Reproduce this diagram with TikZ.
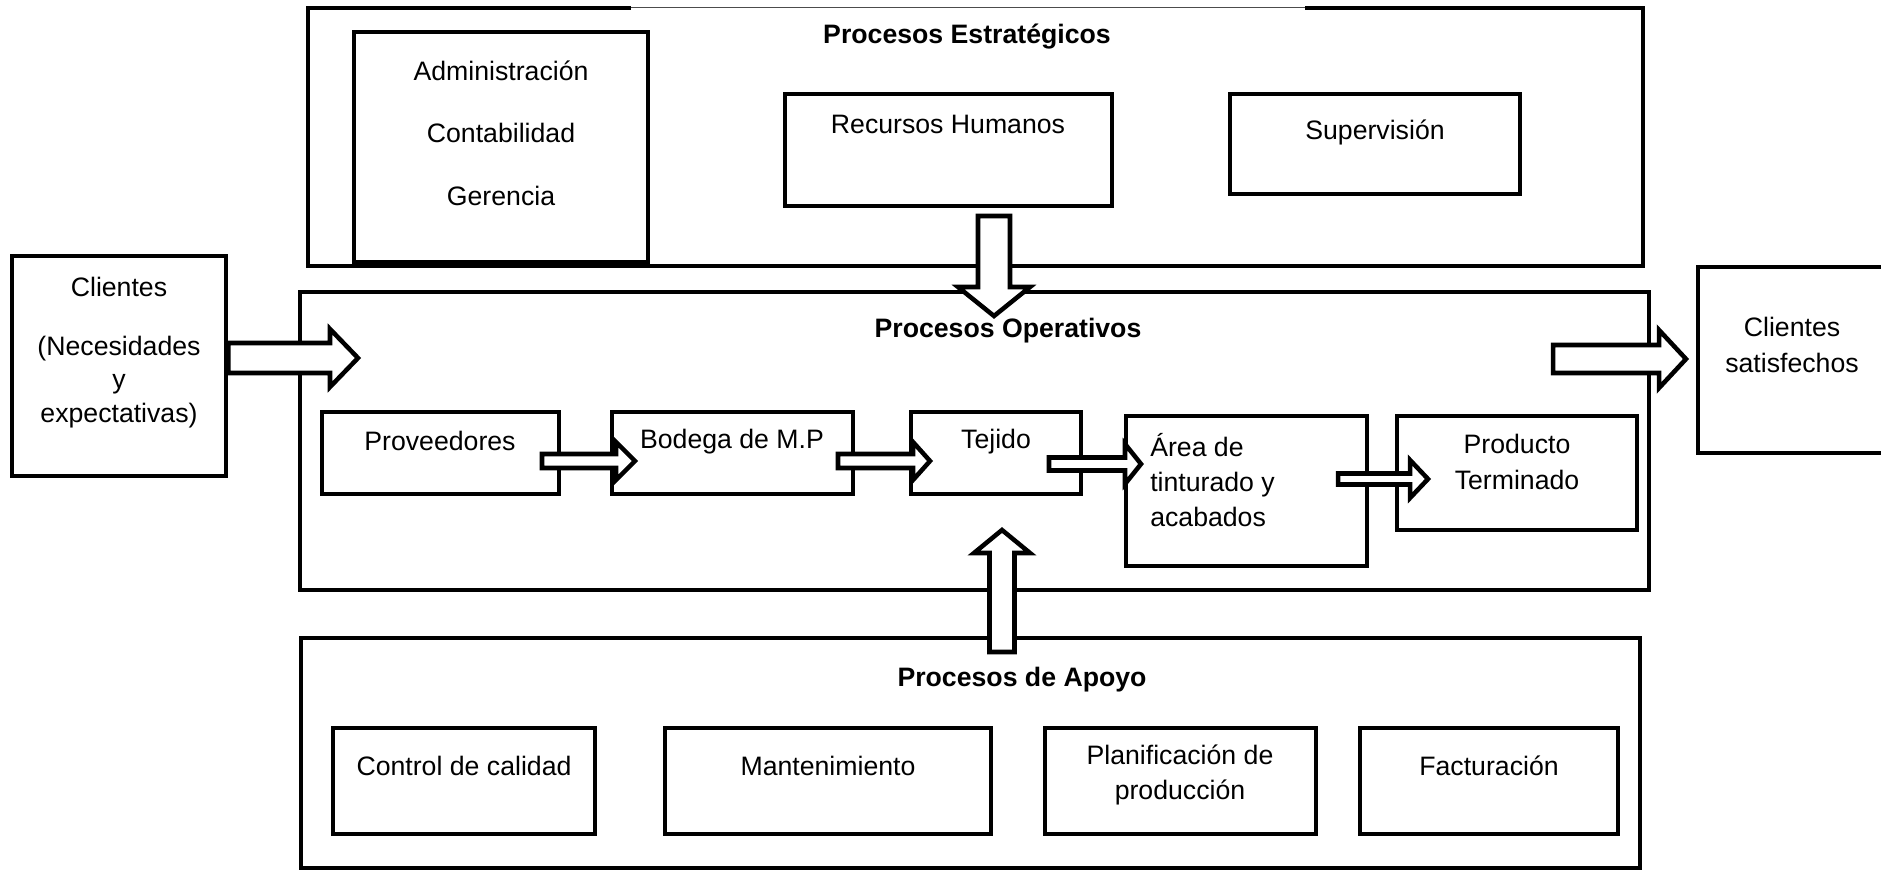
\documentclass[tikz,border=0pt]{standalone}
\usepackage{fontspec}
\setmainfont{Liberation Sans}
\usetikzlibrary{calc,fit}
\newcommand\harrow[5]{%
  \draw[blk] ($(#1)+(0,-#3)$) -- ($(#2)+(-#5,-#3)$) -- ($(#2)+(-#5,-#4)$) -- (#2)
    -- ($(#2)+(-#5,#4)$) -- ($(#2)+(-#5,#3)$) -- ($(#1)+(0,#3)$) -- cycle;}
\newcommand\darrow[5]{%
  \draw[blk] ($(#1)+(-#3,0)$) -- ($(#2)+(-#3,-#5)$) -- ($(#2)+(-#4,-#5)$) -- (#2)
    -- ($(#2)+(#4,-#5)$) -- ($(#2)+(#3,-#5)$) -- ($(#1)+(#3,0)$) -- cycle;}
\newcommand\uarrow[5]{%
  \draw[blk] ($(#1)+(-#3,0)$) -- ($(#2)+(-#3,#5)$) -- ($(#2)+(-#4,#5)$) -- (#2)
    -- ($(#2)+(#4,#5)$) -- ($(#2)+(#3,#5)$) -- ($(#1)+(#3,0)$) -- cycle;}
\begin{document}
\begin{tikzpicture}[x=0.75pt,y=-0.75pt,
  pbox/.style={draw, line width=3.4pt, inner sep=0pt},
  txt/.style={font=\fontsize{20}{26.5}\selectfont, align=center, inner sep=0pt},
  ttl/.style={font=\fontsize{20}{26}\selectfont\bfseries, inner sep=0pt},
  blk/.style={draw, fill=white, line width=3.4pt, line join=miter}]
\clip (0,0) rectangle (1881,872);
\fill[white] (0,0) rectangle (1881,872);
% boxes
\node[pbox, fit={(308,8)(1643,266)}] (strat) {};
\draw[white, line width=3.8pt] (631,8) -- (1305,8);
\draw[line width=0.7pt, black!70] (631,7) -- (1305,7);
\node[pbox, fit={(354,32)(648,262)}] (admin) {};
\node[pbox, fit={(785,94)(1112,206)}] (rh) {};
\node[pbox, fit={(1230,94)(1520,194)}] (sup) {};
\node[pbox, fit={(300,292)(1649,590)}] (oper) {};
\node[pbox, fit={(12,256)(226,476)}] (cli) {};
\node[pbox, fit={(1698,267)(1900,453)}] (sat) {};
\node[pbox, fit={(322,412)(559,494)}] (prov) {};
\node[pbox, fit={(612,412)(853,494)}] (bod) {};
\node[pbox, fit={(911,412)(1081,494)}] (tej) {};
\node[pbox, fit={(1126,416)(1367,566)}] (area) {};
\node[pbox, fit={(1397,416)(1637,530)}] (prod) {};
\node[pbox, fit={(301,638)(1640,868)}] (apoyo) {};
\node[pbox, fit={(333,728)(595,834)}] (cal) {};
\node[pbox, fit={(665,728)(991,834)}] (mant) {};
\node[pbox, fit={(1045,728)(1316,834)}] (plan) {};
\node[pbox, fit={(1360,728)(1618,834)}] (fact) {};
% arrow end points
\coordinate (a1t) at (358,358);
\coordinate (a1s) at (cli.east |- a1t);
\coordinate (a2s) at (994,216);
\coordinate (a2t) at (994,316);
\coordinate (a3s) at (1553,359);
\coordinate (a3t) at (1686,359);
\coordinate (s1s) at (542,461);
\coordinate (s1t) at (635,461);
\coordinate (s2s) at (838,461);
\coordinate (s2t) at (930,461);
\coordinate (s3s) at (1049,464);
\coordinate (s3t) at (1141,464);
\coordinate (s4s) at (1338,479);
\coordinate (s4t) at (1428,479);
\coordinate (ups) at (1002,652);
\coordinate (upt) at (1002,530);
% block arrows
\harrow{a1s}{a1t}{15}{29}{28}
\darrow{a2s}{a2t}{16}{36}{29}
\harrow{a3s}{a3t}{14}{29}{27}
\harrow{s1s}{s1t}{7}{19}{19}
\harrow{s2s}{s2t}{7}{19}{17}
\harrow{s3s}{s3t}{6.5}{20}{16}
\harrow{s4s}{s4t}{5.5}{19}{18}
\uarrow{ups}{upt}{12.5}{28}{23}
% texts
\node[ttl] (tstrat) at (967,37) {Procesos Estratégicos};
\node[txt] (tadm1) at (501,71) {Administración};
\node[txt] (tadm2) at (501,133) {Contabilidad};
\node[txt] (tadm3) at (501,196) {Gerencia};
\node[txt] (trh) at (948,124) {Recursos Humanos};
\node[txt] (tsup) at (1375,132) {Supervisión};
\node[txt] (tcli1) at (119,287) {Clientes};
\node[txt, font=\fontsize{20}{25}\selectfont] (tcli2) at (119,382) {(Necesidades\\y\\expectativas)};
\node[ttl] (toper) at (1008,331) {Procesos Operativos};
\node[txt] (tprov) at (440,441) {Proveedores};
\node[txt] (tbod) at (732,442) {Bodega de M.P};
\node[txt] (ttej) at (996,442) {Tejido};
\node[txt, align=left, anchor=west] (tarea) at (1150,480) {Área de\\tinturado y\\acabados};
\node[txt] (tprod) at (1517,462) {Producto\\Terminado};
\node[txt] (tsat) at (1792,345) {Clientes\\satisfechos};
\node[ttl] (tapoyo) at (1022,680) {Procesos de Apoyo};
\node[txt] (tcal) at (464,766) {Control de calidad};
\node[txt] (tmant) at (828,766) {Mantenimiento};
\node[txt] (tplan) at (1180,775) {Planificación de\\producción};
\node[txt] (tfact) at (1489,766) {Facturación};
\end{tikzpicture}
\end{document}
